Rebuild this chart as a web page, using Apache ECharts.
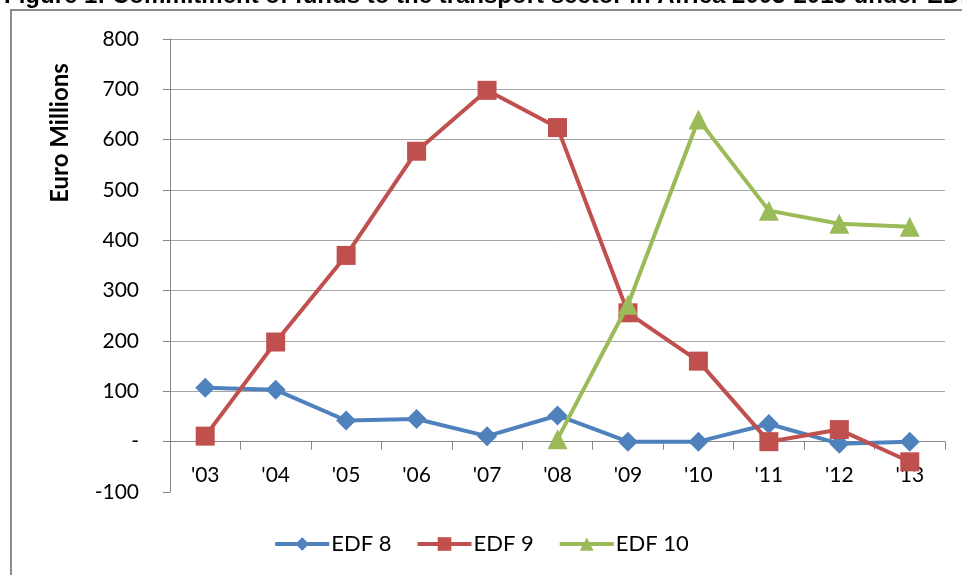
<!DOCTYPE html>
<html>
<head>
<meta charset="utf-8">
<script src="https://cdn.jsdelivr.net/npm/echarts@6/dist/echarts.min.js"></script>
<style>
html,body{margin:0;padding:0;background:#fff;}
#chart{width:962px;height:575px;}
</style>
</head>
<body>
<div id="chart"></div>
<script>
const categories = ["'03","'04","'05","'06","'07","'08","'09","'10","'11","'12","'13"];
const edf8 = [107, 103, 42, 45, 11, 52, 0, 0, 35, -4, 0];
const edf9 = [11, 198, 370, 577, 698, 624, 256, 160, 0, 24, -40];
const edf10 = [null, null, null, null, null, 5, 272, 640, 459, 433, 427];
const yTicks = [-100, 0, 100, 200, 300, 400, 500, 600, 700, 800];
const titleText = "Figure 1: Commitment of funds to the transport sector in Africa 2003-2013 under EDF 8, 9 and 10";

const chart = echarts.init(document.getElementById('chart'));
const font = 'Lato, "Open Sans", sans-serif';
const gridTop = 39, gridBottom = 83, H = 575;
const plotH = H - gridTop - gridBottom;
const zeroOffset = plotH * (0 - yTicks[0]) / (yTicks[yTicks.length - 1] - yTicks[0]);
chart.setOption({
  animation: false,
  title: {
    text: titleText,
    left: -1, top: -21,
    textStyle: {fontFamily: '"Liberation Sans", Arial, sans-serif', fontWeight: 'bold', fontSize: 24, color: '#000'}
  },
  graphic: [
    {type: 'rect', shape: {x: 11, y: 10, width: 1000, height: 700}, style: {fill: 'none', stroke: '#8c8c8c', lineWidth: 2}, silent: true},
    {type: 'text', x: 60, y: 133, rotation: Math.PI / 2,
     style: {text: 'Euro Millions', fontFamily: font, fontWeight: 'bold', fontSize: 24, fill: '#000', align: 'center', verticalAlign: 'middle'}}
  ],
  grid: {left: 170, right: 17, top: gridTop, bottom: gridBottom, containLabel: false},
  legend: {
    bottom: 15, left: 'center',
    itemWidth: 54, itemHeight: 17, itemGap: 24,
    lineStyle: {width: 4},
    textStyle: {fontFamily: font, fontSize: 22, color: '#000', padding: [0, 0, 0, -3]},
    data: ['EDF 8', 'EDF 9', 'EDF 10']
  },
  xAxis: {
    type: 'category',
    data: categories,
    boundaryGap: true,
    offset: -zeroOffset,
    axisLine: {onZero: false, lineStyle: {color: '#868686', width: 1}},
    axisTick: {show: true, length: 8, lineStyle: {color: '#868686'}},
    axisLabel: {margin: 23, fontFamily: font, fontSize: 21, color: '#000'}
  },
  yAxis: {
    type: 'value',
    min: yTicks[0], max: yTicks[yTicks.length - 1], interval: 100,
    axisLine: {show: true, lineStyle: {color: '#868686'}},
    axisTick: {show: true, length: 7, lineStyle: {color: '#868686'}},
    axisLabel: {margin: 31, fontFamily: font, fontSize: 21, color: '#000',
      formatter: v => v === 0 ? '-' : String(v)},
    splitLine: {show: true, showMinLine: false, lineStyle: {color: '#a6a6a6', width: 1}}
  },
  series: [
    {name: 'EDF 8', type: 'line', data: edf8, symbol: 'diamond', symbolSize: 20,
     lineStyle: {color: '#4f81bd', width: 4}, itemStyle: {color: '#4f81bd'}, z: 3},
    {name: 'EDF 9', type: 'line', data: edf9, symbol: 'rect', symbolSize: 19,
     lineStyle: {color: '#c0504d', width: 4}, itemStyle: {color: '#c0504d'}, z: 4},
    {name: 'EDF 10', type: 'line', data: edf10, symbol: 'triangle', symbolSize: 20,
     lineStyle: {color: '#9bbb59', width: 4}, itemStyle: {color: '#9bbb59'}, z: 5}
  ]
});
</script>
</body>
</html>
